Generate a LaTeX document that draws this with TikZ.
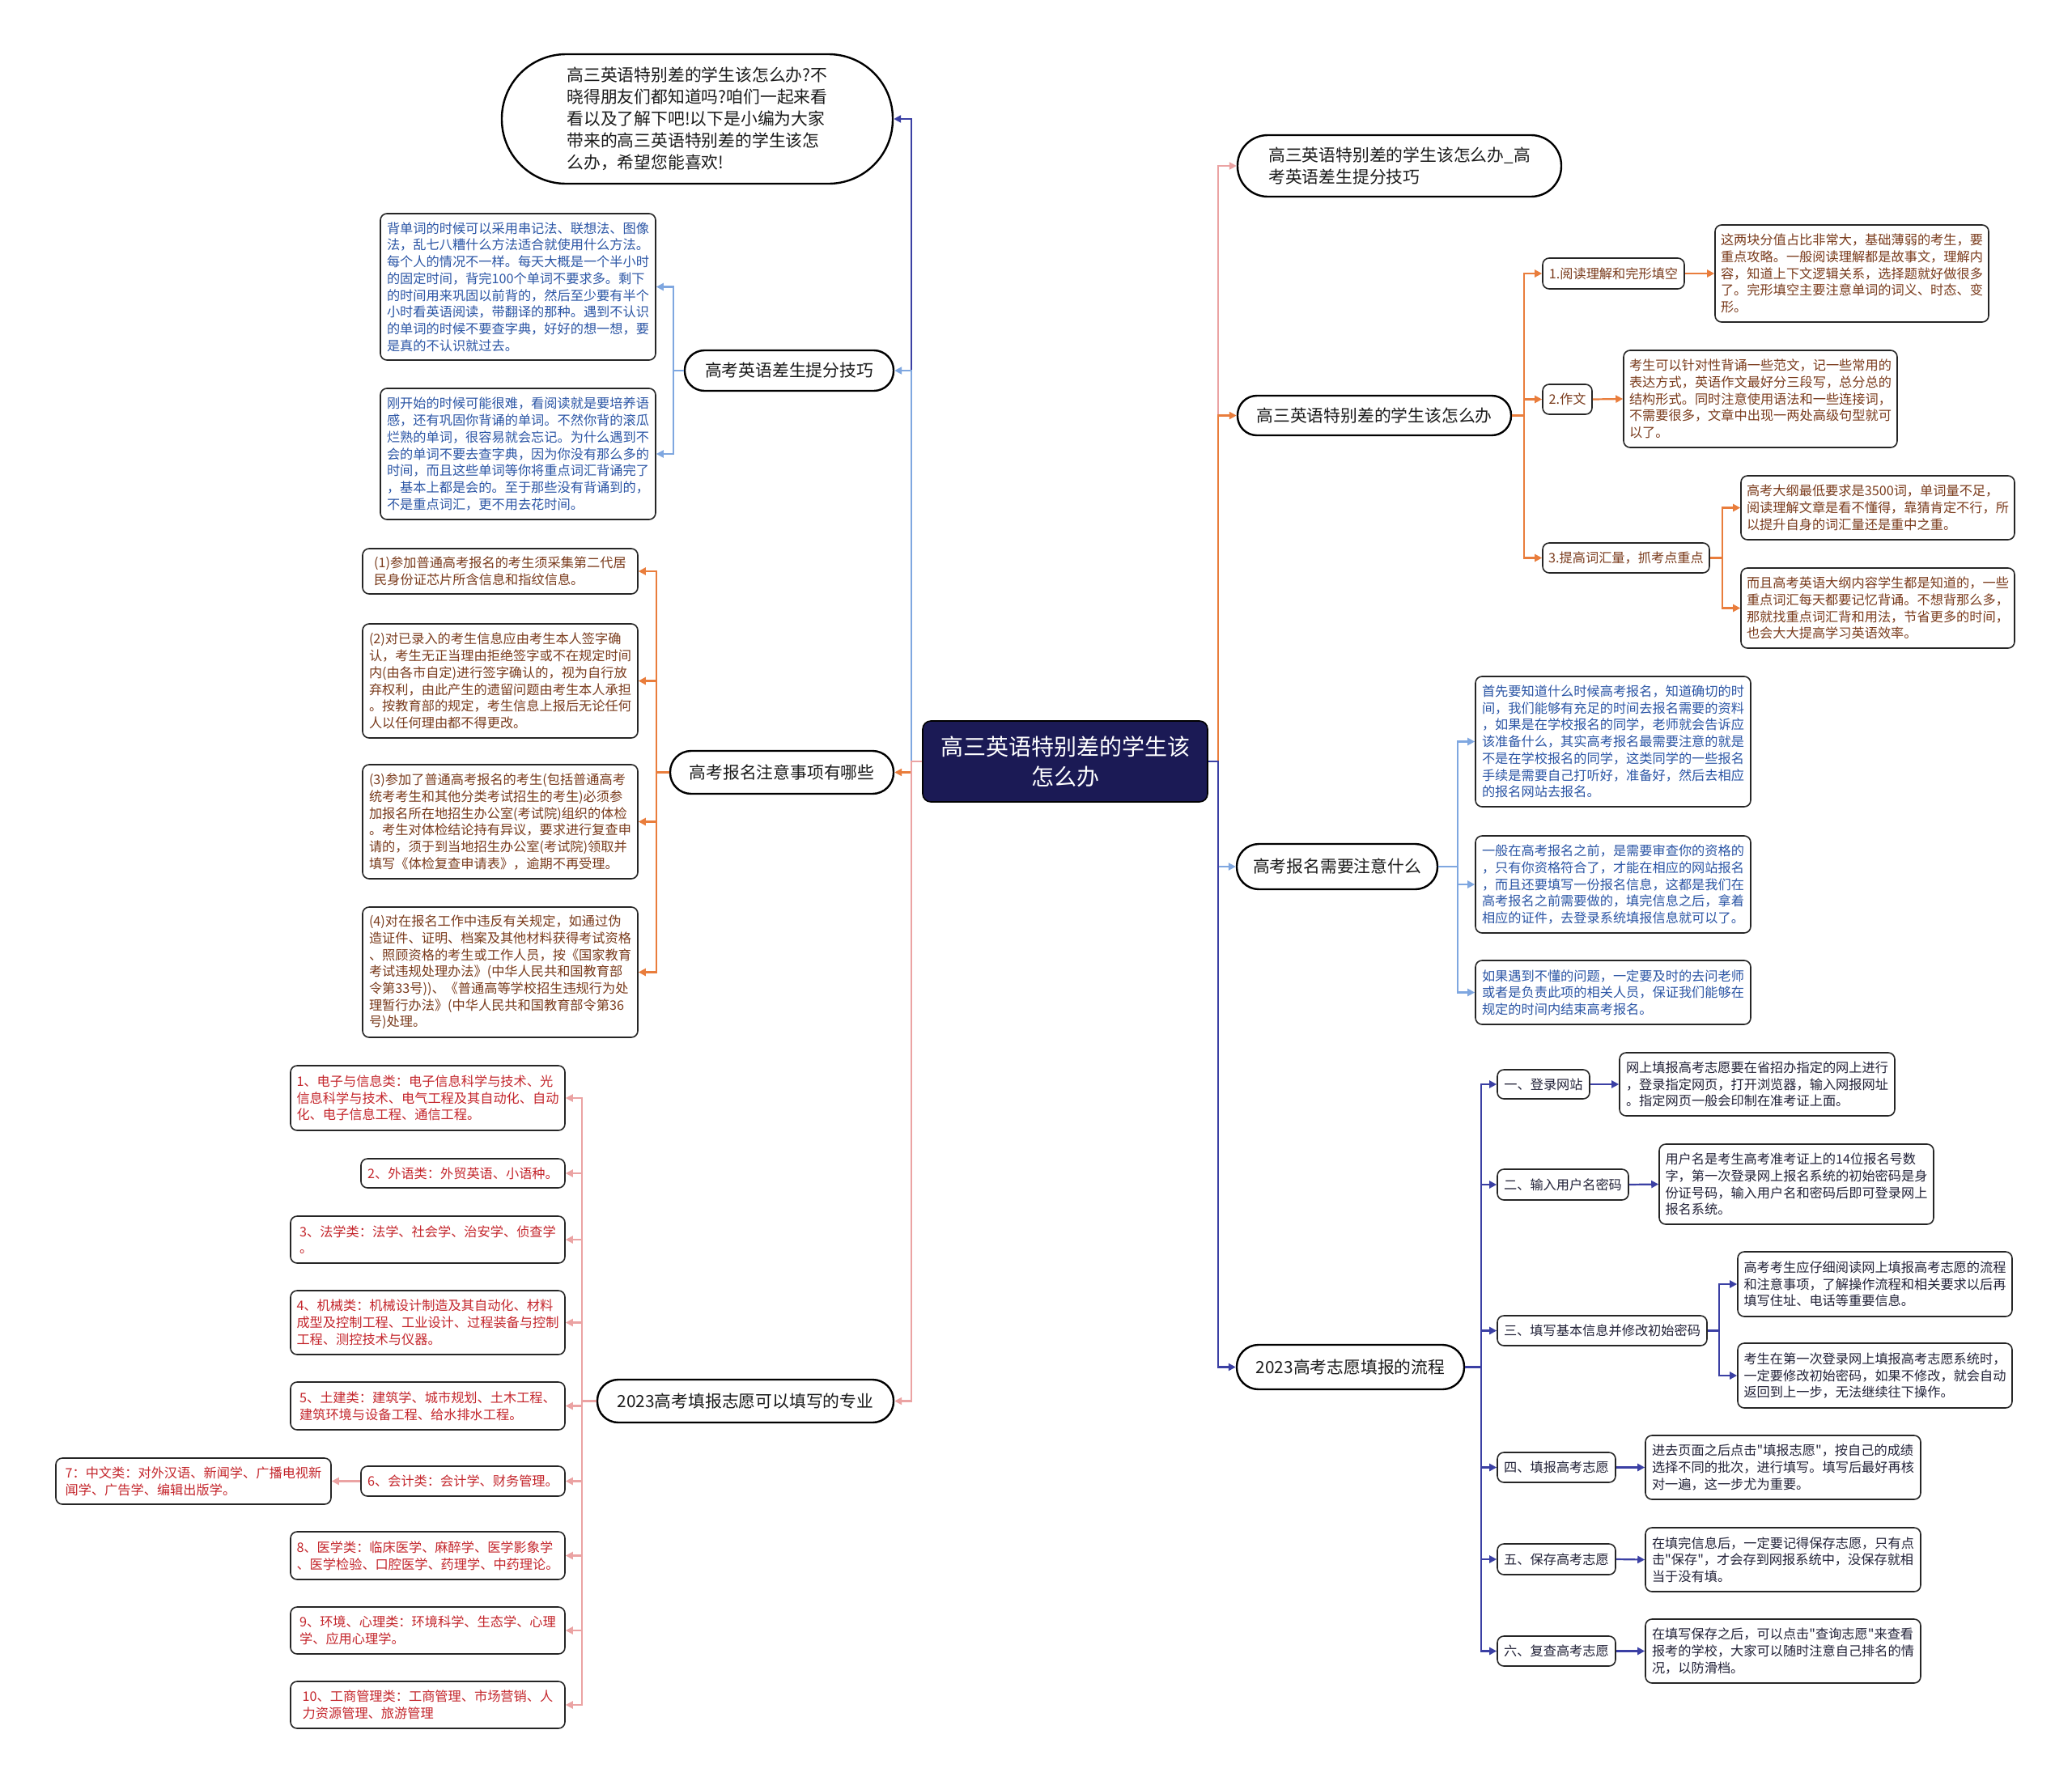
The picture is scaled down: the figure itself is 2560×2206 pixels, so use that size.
\documentclass[tikz,border=0pt]{standalone}
\usepackage{fontspec}
\newfontfamily\cjk{Noto Sans CJK SC}
\usetikzlibrary{arrows.meta}
\definecolor{cNavy}{HTML}{1B1A55}
\definecolor{cDark}{HTML}{3B40A4}
\definecolor{cLight}{HTML}{7FA7E0}
\definecolor{cOrange}{HTML}{E97D3C}
\definecolor{cPink}{HTML}{EBA3A3}
\definecolor{tBlue}{HTML}{2B55A5}
\definecolor{tBrown}{HTML}{7A3B1C}
\definecolor{tRed}{HTML}{C4262C}
\definecolor{tDark}{HTML}{222238}
\definecolor{tBlack}{HTML}{1A1A1A}
\newcommand\mydfont{\cjk\fontsize{8.1}{10.35}\selectfont}
\newcommand\mybfont{\cjk\fontsize{10.4}{13.5}\selectfont}
\tikzset{
  dbox/.style={draw=black!85, line width=0.8pt, rounded corners=4pt, align=left, inner sep=0pt, font=\mydfont},
  bub/.style={draw=black, line width=1.2pt, align=left, inner sep=0pt, font=\mybfont, text=tBlack},
  conn/.style={line width=1.1pt, -{Triangle[length=4.5pt,width=4.5pt]}},
}
\newcommand\mybox[7]{%
  \pgfmathsetmacro\mbw{(#4-#2)*0.5}%
  \pgfmathsetmacro\mbh{(#5-#3)*0.5}%
  \node[dbox, text=#6, minimum width=\mbw pt, minimum height=\mbh pt] (#1) at ({(#2+#4)/2},{(#3+#5)/2}) {#7};}
\newcommand\mybub[6]{%
  \pgfmathsetmacro\mbw{(#4-#2)*0.5}%
  \pgfmathsetmacro\mbh{(#5-#3)*0.5}%
  \pgfmathsetmacro\mbr{(#5-#3)*0.25-0.3}%
  \node[bub, minimum width=\mbw pt, minimum height=\mbh pt, rounded corners=\mbr pt] (#1) at ({(#2+#4)/2},{(#3+#5)/2}) {#6};}
\begin{document}
\begin{tikzpicture}[x=0.5pt,y=-0.5pt]
\useasboundingbox[fill=white] (0,0) rectangle (2560,2206);

% central node
\node[fill=cNavy, draw=black, line width=0.8pt, rounded corners=5pt, minimum width=176pt, minimum height=50pt, text=white, align=center, font=\cjk\fontsize{14}{18.5}\selectfont] (ctr) at (1316,941) {高三英语特别差的学生该\\怎么办};

% ---------- left level 1 ----------
\mybub{L1}{620}{67}{1103}{227}{高三英语特别差的学生该怎么办?不\\晓得朋友们都知道吗?咱们一起来看\\看以及了解下吧!以下是小编为大家\\带来的高三英语特别差的学生该怎\\么办，希望您能喜欢!}
\mybub{L2}{846}{433}{1104}{483}{高考英语差生提分技巧}
\mybub{L3}{828}{928}{1104}{981}{高考报名注意事项有哪些}
\mybub{L4}{738}{1705}{1104}{1758}{2023高考填报志愿可以填写的专业}

% L2 children
\mybox{B1}{470}{264}{810}{445}{tBlue}{背单词的时候可以采用串记法、联想法、图像\\法，乱七八糟什么方法适合就使用什么方法。\\每个人的情况不一样。每天大概是一个半小时\\的固定时间，背完100个单词不要求多。剩下\\的时间用来巩固以前背的，然后至少要有半个\\小时看英语阅读，带翻译的那种。遇到不认识\\的单词的时候不要查字典，好好的想一想，要\\是真的不认识就过去。}
\mybox{B2}{470}{480}{810}{642}{tBlue}{刚开始的时候可能很难，看阅读就是要培养语\\感，还有巩固你背诵的单词。不然你背的滚瓜\\烂熟的单词，很容易就会忘记。为什么遇到不\\会的单词不要去查字典，因为你没有那么多的\\时间，而且这些单词等你将重点词汇背诵完了\\，基本上都是会的。至于那些没有背诵到的，\\不是重点词汇，更不用去花时间。}

% L3 children
\mybox{C1}{448}{678}{788}{734}{tBrown}{(1)参加普通高考报名的考生须采集第二代居\\民身份证芯片所含信息和指纹信息。}
\mybox{C2}{448}{771}{788}{912}{tBrown}{(2)对已录入的考生信息应由考生本人签字确\\认，考生无正当理由拒绝签字或不在规定时间\\内(由各市自定)进行签字确认的，视为自行放\\弃权利，由此产生的遗留问题由考生本人承担\\。按教育部的规定，考生信息上报后无论任何\\人以任何理由都不得更改。}
\mybox{C3}{448}{945}{788}{1086}{tBrown}{(3)参加了普通高考报名的考生(包括普通高考\\统考考生和其他分类考试招生的考生)必须参\\加报名所在地招生办公室(考试院)组织的体检\\。考生对体检结论持有异议，要求进行复查申\\请的，须于到当地招生办公室(考试院)领取并\\填写《体检复查申请表》，逾期不再受理。}
\mybox{C4}{448}{1121}{788}{1282}{tBrown}{(4)对在报名工作中违反有关规定，如通过伪\\造证件、证明、档案及其他材料获得考试资格\\、照顾资格的考生或工作人员，按《国家教育\\考试违规处理办法》(中华人民共和国教育部\\令第33号))、《普通高等学校招生违规行为处\\理暂行办法》(中华人民共和国教育部令第36\\号)处理。}

% L4 children
\mybox{D1}{359}{1317}{698}{1397}{tRed}{1、电子与信息类：电子信息科学与技术、光\\信息科学与技术、电气工程及其自动化、自动\\化、电子信息工程、通信工程。}
\mybox{D2}{446}{1432}{698}{1468}{tRed}{2、外语类：外贸英语、小语种。}
\mybox{D3}{359}{1503}{698}{1561}{tRed}{3、法学类：法学、社会学、治安学、侦查学\\。}
\mybox{D4}{359}{1595}{698}{1674}{tRed}{4、机械类：机械设计制造及其自动化、材料\\成型及控制工程、工业设计、过程装备与控制\\工程、测控技术与仪器。}
\mybox{D5}{359}{1708}{698}{1767}{tRed}{5、土建类：建筑学、城市规划、土木工程、\\建筑环境与设备工程、给水排水工程。}
\mybox{D6}{446}{1812}{698}{1849}{tRed}{6、会计类：会计学、财务管理。}
\mybox{D7}{69}{1802}{409}{1859}{tRed}{7：中文类：对外汉语、新闻学、广播电视新\\闻学、广告学、编辑出版学。}
\mybox{D8}{359}{1893}{698}{1952}{tRed}{8、医学类：临床医学、麻醉学、医学影象学\\、医学检验、口腔医学、药理学、中药理论。}
\mybox{D9}{359}{1986}{698}{2044}{tRed}{9、环境、心理类：环境科学、生态学、心理\\学、应用心理学。}
\mybox{D10}{359}{2078}{698}{2136}{tRed}{10、工商管理类：工商管理、市场营销、人\\力资源管理、旅游管理}

% ---------- right level 1 ----------
\mybub{R1}{1529}{167}{1929}{243}{高三英语特别差的学生该怎么办\_高\\考英语差生提分技巧}
\mybub{R2}{1529}{489}{1867}{538}{高三英语特别差的学生该怎么办}
\mybub{R3}{1528}{1043}{1776}{1099}{高考报名需要注意什么}
\mybub{R4}{1528}{1662}{1809}{1717}{2023高考志愿填报的流程}

% R2 children
\mybox{E1}{1906}{319}{2081}{357}{tBrown}{1.阅读理解和完形填空}
\mybox{F1}{2119}{278}{2457}{398}{tBrown}{这两块分值占比非常大，基础薄弱的考生，要\\重点攻略。一般阅读理解都是故事文，理解内\\容，知道上下文逻辑关系，选择题就好做很多\\了。完形填空主要注意单词的词义、时态、变\\形。}
\mybox{E2}{1906}{475}{1967}{512}{tBrown}{2.作文}
\mybox{F2}{2006}{433}{2344}{553}{tBrown}{考生可以针对性背诵一些范文，记一些常用的\\表达方式，英语作文最好分三段写，总分总的\\结构形式。同时注意使用语法和一些连接词，\\不需要很多，文章中出现一两处高级句型就可\\以了。}
\mybox{E3}{1906}{671}{2112}{708}{tBrown}{3.提高词汇量，抓考点重点}
\mybox{F3a}{2151}{588}{2489}{667}{tBrown}{高考大纲最低要求是3500词，单词量不足，\\阅读理解文章是看不懂得，靠猜肯定不行，所\\以提升自身的词汇量还是重中之重。}
\mybox{F3b}{2151}{702}{2489}{801}{tBrown}{而且高考英语大纲内容学生都是知道的，一些\\重点词汇每天都要记忆背诵。不想背那么多，\\那就找重点词汇背和用法，节省更多的时间，\\也会大大提高学习英语效率。}

% R3 children
\mybox{G1}{1823}{836}{2163}{997}{tBlue}{首先要知道什么时候高考报名，知道确切的时\\间，我们能够有充足的时间去报名需要的资料\\，如果是在学校报名的同学，老师就会告诉应\\该准备什么，其实高考报名最需要注意的就是\\不是在学校报名的同学，这类同学的一些报名\\手续是需要自己打听好，准备好，然后去相应\\的报名网站去报名。}
\mybox{G2}{1823}{1033}{2163}{1153}{tBlue}{一般在高考报名之前，是需要审查你的资格的\\，只有你资格符合了，才能在相应的网站报名\\，而且还要填写一份报名信息，这都是我们在\\高考报名之前需要做的，填完信息之后，拿着\\相应的证件，去登录系统填报信息就可以了。}
\mybox{G3}{1823}{1187}{2163}{1266}{tBlue}{如果遇到不懂的问题，一定要及时的去问老师\\或者是负责此项的相关人员，保证我们能够在\\规定的时间内结束高考报名。}

% R4 children
\mybox{H1}{1850}{1322}{1964}{1358}{tDark}{一、登录网站}
\mybox{I1}{2001}{1301}{2341}{1379}{tDark}{网上填报高考志愿要在省招办指定的网上进行\\，登录指定网页，打开浏览器，输入网报网址\\。指定网页一般会印制在准考证上面。}
\mybox{H2}{1850}{1445}{2012}{1483}{tDark}{二、输入用户名密码}
\mybox{I2}{2050}{1414}{2389}{1513}{tDark}{用户名是考生高考准考证上的14位报名号数\\字，第一次登录网上报名系统的初始密码是身\\份证号码，输入用户名和密码后即可登录网上\\报名系统。}
\mybox{H3}{1850}{1626}{2109}{1663}{tDark}{三、填写基本信息并修改初始密码}
\mybox{I3a}{2147}{1547}{2486}{1627}{tDark}{高考考生应仔细阅读网上填报高考志愿的流程\\和注意事项，了解操作流程和相关要求以后再\\填写住址、电话等重要信息。}
\mybox{I3b}{2147}{1660}{2486}{1740}{tDark}{考生在第一次登录网上填报高考志愿系统时，\\一定要修改初始密码，如果不修改，就会自动\\返回到上一步，无法继续往下操作。}
\mybox{H4}{1850}{1795}{1996}{1832}{tDark}{四、填报高考志愿}
\mybox{I4}{2033}{1774}{2373}{1853}{tDark}{进去页面之后点击"填报志愿"，按自己的成绩\\选择不同的批次，进行填写。填写后最好再核\\对一遍，这一步尤为重要。}
\mybox{H5}{1850}{1908}{1996}{1946}{tDark}{五、保存高考志愿}
\mybox{I5}{2033}{1888}{2373}{1967}{tDark}{在填完信息后，一定要记得保存志愿，只有点\\击"保存"，才会存到网报系统中，没保存就相\\当于没有填。}
\mybox{H6}{1850}{2022}{1996}{2059}{tDark}{六、复查高考志愿}
\mybox{I6}{2033}{2001}{2373}{2080}{tDark}{在填写保存之后，可以点击"查询志愿"来查看\\报考的学校，大家可以随时注意自己排名的情\\况，以防滑档。}

% ---------- connectors: left ----------
\draw[conn, cDark] (ctr.west) -- ++(-13,0) |- (L1.east);
\draw[conn, cLight] (ctr.west) -- ++(-13,0) |- (L2.east);
\draw[conn, cOrange] (ctr.west) -- ++(-13,0) |- (L3.east);
\draw[conn, cPink] (ctr.west) -- ++(-13,0) |- (L4.east);

\foreach \c in {B1,B2} \draw[conn, cLight] (L2.west) -- ++(-13,0) |- (\c.east);
\foreach \c in {C1,C2,C3,C4} \draw[conn, cOrange] (L3.west) -- ++(-16,0) |- (\c.east);
\foreach \c in {D1,D2,D3,D4,D5,D6,D8,D9,D10} \draw[conn, cPink] (L4.west) -- ++(-18,0) |- (\c.east);
\draw[conn, cPink] (D6.west) -- (D7.east);

% ---------- connectors: right ----------
\draw[conn, cPink] (ctr.east) -- ++(12,0) |- (R1.west);
\draw[conn, cOrange] (ctr.east) -- ++(12,0) |- (R2.west);
\draw[conn, cLight] (ctr.east) -- ++(12,0) |- (R3.west);
\draw[conn, cDark] (ctr.east) -- ++(12,0) |- (R4.west);

\foreach \c in {E1,E2,E3} \draw[conn, cOrange] (R2.east) -- ++(15,0) |- (\c.west);
\draw[conn, cOrange] (E1.east) -- (F1.west);
\draw[conn, cOrange] (E2.east) -- (F2.west);
\foreach \c in {F3a,F3b} \draw[conn, cOrange] (E3.east) -- ++(15,0) |- (\c.west);

\foreach \c in {G1,G2,G3} \draw[conn, cLight] (R3.east) -- ++(24,0) |- (\c.west);

\foreach \c in {H1,H2,H3,H4,H5,H6} \draw[conn, cDark] (R4.east) -- ++(20,0) |- (\c.west);
\draw[conn, cDark] (H1.east) -- (I1.west);
\draw[conn, cDark] (H2.east) -- (I2.west);
\foreach \c in {I3a,I3b} \draw[conn, cDark] (H3.east) -- ++(14,0) |- (\c.west);
\draw[conn, cDark] (H4.east) -- (I4.west);
\draw[conn, cDark] (H5.east) -- (I5.west);
\draw[conn, cDark] (H6.east) -- (I6.west);
\end{tikzpicture}
\end{document}
